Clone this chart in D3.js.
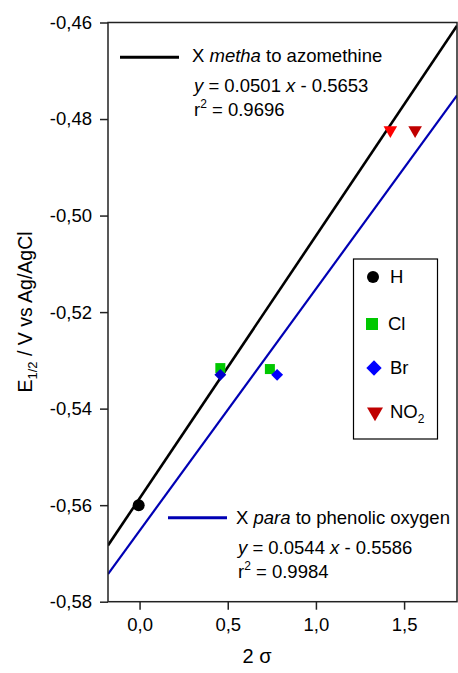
<!DOCTYPE html>
<html>
<head>
<meta charset="utf-8">
<script src="https://cdn.jsdelivr.net/npm/d3@7"></script>
<style>
  body { margin: 0; background: #fff; }
  svg { font-family: "Liberation Sans", Arial, sans-serif; }
</style>
</head>
<body>
<div id="chart"></div>
<script>
// data
let hX = [-0.005], hY = [-0.56];
let clX = [0.458, 0.739], clY = [-0.5316, -0.5318];
let brX = [0.458, 0.78], brY = [-0.533, -0.533];
let no2X = [1.422, 1.5625], no2Y = [-0.4823, -0.4823];
let no2Colors = ["#ff0000", "#c00000"];
let brColors = ["#0000cc", "#0000ff"];

// fitted lines (slope, intercept)
let metaFit = [0.0544, -0.5586];   // drawn black
let paraFit = [0.0501, -0.5653];   // drawn blue

let xTicks = [0, 0.5, 1.0, 1.5];
let yTicks = [-0.46, -0.48, -0.50, -0.52, -0.54, -0.56, -0.58];
let legendNames = ["H", "Cl", "Br", "NO"];

let W = 458, H = 673;
let svg = d3.select("#chart").append("svg").attr("width", W).attr("height", H);

let x = d3.scaleLinear().domain([-0.179, 1.8]).range([108, 457]);
let y = d3.scaleLinear().domain([-0.58, -0.46]).range([601.7, 22.5]);
let fs = "18.5px";
let comma = v => d3.format(".1f")(v).replace(".", ",").replace("\u2212", "-");
let comma2 = v => d3.format(".2f")(v).replace(".", ",").replace("\u2212", "-");

svg.append("defs").append("clipPath").attr("id", "clip")
  .append("rect").attr("x", 108).attr("y", 22.5).attr("width", 349).attr("height", 579.2);

// fit lines
let fitLine = (f, color, w) => {
  let xs = x.domain();
  svg.append("line")
    .attr("clip-path", "url(#clip)")
    .attr("x1", x(xs[0])).attr("y1", y(f[0] * xs[0] + f[1]))
    .attr("x2", x(xs[1])).attr("y2", y(f[0] * xs[1] + f[1]))
    .attr("stroke", color).attr("stroke-width", w);
}
fitLine(metaFit, "#000", 2.6);
fitLine(paraFit, "#0000b4", 2.2);

// points
svg.selectAll(".cl").data(clX).enter().append("rect")
  .attr("x", (d, i) => x(d) - 5).attr("y", (d, i) => y(clY[i]) - 5)
  .attr("width", 10).attr("height", 10).attr("fill", "#00c800");
svg.selectAll(".br").data(brX).enter().append("path")
  .attr("d", d3.symbol(d3.symbolDiamond2, 90)())
  .attr("transform", (d, i) => `translate(${x(d)},${y(brY[i])})`)
  .attr("fill", (d, i) => brColors[i]);
svg.selectAll(".h").data(hX).enter().append("circle")
  .attr("cx", d => x(d)).attr("cy", (d, i) => y(hY[i])).attr("r", 6).attr("fill", "#000");
svg.selectAll(".no2").data(no2X).enter().append("path")
  .attr("d", d3.symbol(d3.symbolTriangle, 80)())
  .attr("transform", (d, i) => `translate(${x(d)},${y(no2Y[i])}) rotate(180)`)
  .attr("fill", (d, i) => no2Colors[i]);

// frame
svg.append("rect").attr("x", 108).attr("y", 22.5).attr("width", 349).attr("height", 579.2)
  .attr("fill", "none").attr("stroke", "#222").attr("stroke-width", 1.5);

// axes
let xAxis = svg.append("g").attr("transform", "translate(0,601.7)")
  .call(d3.axisBottom(x).tickValues(xTicks).tickFormat(comma).tickSize(8).tickPadding(8));
let yAxis = svg.append("g").attr("transform", "translate(108,0)")
  .call(d3.axisLeft(y).tickValues(yTicks).tickFormat(comma2).tickSize(8).tickPadding(8));
[xAxis, yAxis].forEach(a => {
  a.select(".domain").remove();
  a.selectAll("line").attr("stroke", "#222").attr("stroke-width", 1.5);
  a.selectAll("text").attr("font-size", fs).attr("fill", "#000")
    .style("font-family", "'Liberation Sans', Arial, sans-serif");
});

// axis titles
svg.append("text").attr("x", 257).attr("y", 663).attr("text-anchor", "middle")
  .attr("font-size", "20px").text("2 \u03c3");
let yl = svg.append("text").attr("transform", "translate(32,312) rotate(-90)")
  .attr("text-anchor", "middle").attr("font-size", "19.5px");
yl.append("tspan").text("E");
yl.append("tspan").attr("font-size", "13px").attr("dy", 5).text("1/2");
yl.append("tspan").attr("dy", -5).text(" / V vs Ag/AgCl");

// fit legends
let fitLegend = (lx1, lx2, ly, color, w, tx, ty, pre, it, post, eq, r2) => {
  svg.append("line").attr("x1", lx1).attr("x2", lx2).attr("y1", ly).attr("y2", ly)
    .attr("stroke", color).attr("stroke-width", w);
  let t = svg.append("text").attr("x", tx).attr("y", ty).attr("font-size", fs);
  t.append("tspan").text(pre);
  t.append("tspan").attr("font-style", "italic").text(it);
  t.append("tspan").text(post);
  let e = svg.append("text").attr("x", tx + 2).attr("y", ty + 30).attr("font-size", fs);
  e.append("tspan").attr("font-style", "italic").text("y");
  e.append("tspan").text(" = " + eq[0] + " ");
  e.append("tspan").attr("font-style", "italic").text("x");
  e.append("tspan").text(" - " + eq[1]);
  let r = svg.append("text").attr("x", tx + 2).attr("y", ty + 54).attr("font-size", fs);
  r.append("tspan").text("r");
  r.append("tspan").attr("font-size", "12px").attr("dy", -8).text("2");
  r.append("tspan").attr("dy", 8).text(" = " + r2);
}
fitLegend(120, 179, 57.3, "#000", 3, 192, 62, "X ", "metha", " to azomethine", ["0.0501", "0.5653"], "0.9696");
fitLegend(168, 227, 517.7, "#0000b4", 3, 236, 524, "X ", "para", " to phenolic oxygen", ["0.0544", "0.5586"], "0.9984");

// symbol legend
svg.append("rect").attr("x", 353.5).attr("y", 259).attr("width", 84).attr("height", 180)
  .attr("fill", "#fff").attr("stroke", "#000").attr("stroke-width", 1.2);
let legY = [277, 324, 368, 412];
svg.append("circle").attr("cx", 373).attr("cy", legY[0]).attr("r", 6).attr("fill", "#000");
svg.append("rect").attr("x", 366).attr("y", legY[1] - 6).attr("width", 12).attr("height", 12).attr("fill", "#00c800");
svg.append("path").attr("d", d3.symbol(d3.symbolDiamond2, 150)())
  .attr("transform", `translate(374,${legY[2]})`).attr("fill", "#0000ff");
svg.append("path").attr("d", d3.symbol(d3.symbolTriangle, 110)())
  .attr("transform", `translate(375,${legY[3]}) rotate(180)`).attr("fill", "#c00000");
legendNames.forEach((n, i) => {
  let t = svg.append("text").attr("x", i == 1 ? 388 : 390).attr("y", legY[i] + 6).attr("font-size", fs).text(n);
  if (n == "NO") t.append("tspan").attr("font-size", "12px").attr("dy", 5).text("2");
});
</script>
</body>
</html>
